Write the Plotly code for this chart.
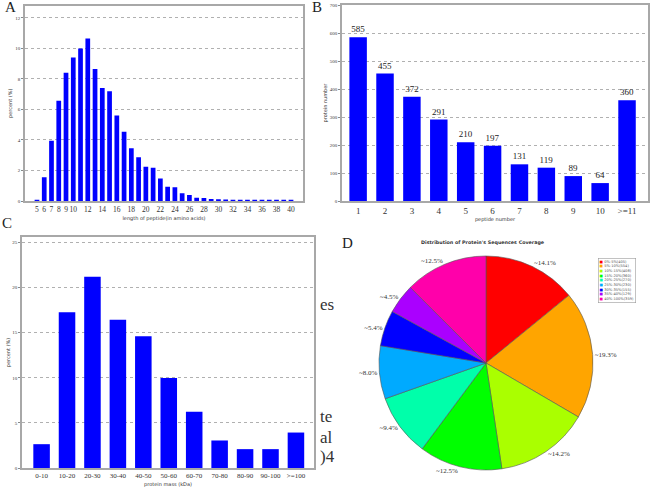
import plotly.graph_objects as go

# ---- panel A: peptide length distribution ----
pep_len = list(range(5, 41))
pep_len_pct = [0.05, 1.55, 3.95, 6.57, 8.4, 9.41, 10.0, 10.65, 8.65, 7.4,
               7.2, 5.6, 4.54, 3.45, 2.86, 2.25, 2.18, 1.48, 0.94, 0.9,
               0.5, 0.4, 0.22, 0.2, 0.13, 0.12, 0.1, 0.07, 0.06, 0.06,
               0.03, 0.02, 0.02, 0.03, 0.07, 0.02]
pep_len_ticks = [5, 6, 7, 8, 9, 10] + list(range(12, 41, 2))

# ---- panel B: peptide number per protein ----
pep_num = ['1', '2', '3', '4', '5', '6', '7', '8', '9', '10', '>=11']
protein_count = [585, 455, 372, 291, 210, 197, 131, 119, 89, 64, 360]

# ---- panel C: protein mass distribution ----
mass_bins = ['0-10', '10-20', '20-30', '30-40', '40-50', '50-60', '60-70',
             '70-80', '80-90', '90-100', '>=100']
mass_pct = [2.64, 17.25, 21.2, 16.44, 14.6, 9.98, 6.24, 3.05, 2.09, 2.09, 3.93]

# ---- panel D: sequence coverage ----
cov_labels = ['0%-5%', '5%-10%', '10%-15%', '15%-20%', '20%-25%',
              '25%-30%', '30%-35%', '35%-40%', '40%-100%']
cov_counts = [405, 554, 408, 360, 270, 230, 155, 129, 359]
cov_colors = ['#FF0000', '#FFA500', '#AAFF00', '#00FF00', '#00FFAA',
              '#00AAFF', '#0000FF', '#AA00FF', '#FF00AA']

BLUE = '#0000FF'
SERIF = 'Liberation Serif'
SANS = 'DejaVu Sans'
W, H = 653, 493


def px(x):
    return x / W


def py(y):
    return 1 - y / H


fig = go.Figure()

fig.add_trace(go.Bar(x=pep_len, y=pep_len_pct, marker=dict(color=BLUE, line=dict(width=0)),
                     xaxis='x', yaxis='y', showlegend=False))
fig.add_trace(go.Bar(x=pep_num, y=protein_count, marker=dict(color=BLUE, line=dict(width=0)),
                     text=protein_count, textposition='outside', cliponaxis=False,
                     textfont=dict(family=SERIF, size=9, color='#222'),
                     xaxis='x2', yaxis='y2', showlegend=False))
fig.add_trace(go.Bar(x=mass_bins, y=mass_pct, marker=dict(color=BLUE, line=dict(width=0)),
                     xaxis='x3', yaxis='y3', showlegend=False))
fig.add_trace(go.Pie(labels=cov_labels, values=cov_counts, sort=False,
                     direction='clockwise', rotation=0,
                     marker=dict(colors=cov_colors, line=dict(color='#555555', width=0.6)),
                     textposition='outside', texttemplate='~%{percent:.1%}',
                     textfont=dict(family=SERIF, size=7, color='#333'),
                     domain=dict(x=[px(377), px(595)], y=[py(470), py(256)]),
                     showlegend=False, hoverinfo='label+value'))

frame = dict(showline=True, mirror=True, linecolor='#a8a8a8', linewidth=1.5, zeroline=False)
ygrid = dict(showgrid=True, gridcolor='#b0b0b0', griddash='dot', gridwidth=1,
             ticks='outside', ticklen=2, tickcolor='#888',
             tickfont=dict(family=SERIF, size=5, color='#333'))
xtitle_font = dict(family=SANS, size=5, color='#333')

fig.update_layout(
    width=W, height=H, margin=dict(l=0, r=0, t=0, b=0, autoexpand=False),
    paper_bgcolor='white', plot_bgcolor='white', bargap=0.35,
    xaxis=dict(domain=[px(25), px(303)], range=[3.35, 41.65], tickvals=pep_len_ticks,
               tickangle=0, showgrid=False, tickfont=dict(family=SERIF, size=7.5, color='#333'),
               title=dict(text='length of peptide(in amino acids)', font=xtitle_font, standoff=4),
               anchor='y', **frame),
    yaxis=dict(domain=[py(201), py(5.7)], range=[0, 12.8], dtick=2,
               title=dict(text='percent (%)', font=xtitle_font, standoff=2),
               anchor='x', **ygrid, **frame),
    xaxis2=dict(domain=[px(342), px(648)], range=[-0.6, 10.78], type='category',
                tickangle=0, showgrid=False, tickfont=dict(family=SERIF, size=9, color='#333'),
                title=dict(text='peptide number', font=xtitle_font, standoff=3),
                anchor='y2', **frame),
    yaxis2=dict(domain=[py(201), py(5)], range=[0, 700], dtick=100,
                title=dict(text='protein number', font=xtitle_font, standoff=2),
                anchor='x2', **ygrid, **frame),
    xaxis3=dict(domain=[px(22), px(314)], range=[-0.77, 10.71], type='category',
                tickangle=0, showgrid=False, tickfont=dict(family=SERIF, size=7, color='#333'),
                title=dict(text='protein mass (kDa)', font=xtitle_font, standoff=3),
                anchor='y3', **frame),
    yaxis3=dict(domain=[py(468), py(237)], range=[0, 25.6], dtick=5,
                title=dict(text='percent (%)', font=xtitle_font, standoff=2),
                anchor='x3', **ygrid, **frame),
)

# panel letters
for letter, lx, ly in [('A', 10, 7), ('B', 317, 7), ('C', 7, 223), ('D', 347, 243)]:
    fig.add_annotation(text=letter, x=px(lx), y=py(ly), xref='paper', yref='paper',
                       xanchor='center', yanchor='middle', showarrow=False,
                       font=dict(family=SERIF, size=15, color='#222'))

# pie title
fig.add_annotation(text="<b>Distribution of Protein's Sequences Coverage</b>",
                   x=px(483), y=py(243), xref='paper', yref='paper', showarrow=False,
                   xanchor='center', yanchor='middle',
                   font=dict(family=SANS, size=4.8, color='#333'))

# pie legend
legend_lines = ["<span style='color:%s'>\u25a0</span> %s(%d)" % (c, l, n)
                for c, l, n in zip(cov_colors, cov_labels, cov_counts)]
fig.add_annotation(text='<br>'.join(legend_lines), x=px(598), y=py(258),
                   xref='paper', yref='paper', xanchor='left', yanchor='top', align='left',
                   showarrow=False, bordercolor='#999', borderwidth=0.6, borderpad=1,
                   font=dict(family=SANS, size=3.6, color='#555'))

# stray page text visible behind the panels
for txt, ty in [('es', 304), ('te', 416), ('al', 437), (')4', 456)]:
    fig.add_annotation(text=txt, x=px(318), y=py(ty), xref='paper', yref='paper',
                       xanchor='left', yanchor='middle', showarrow=False,
                       font=dict(family=SERIF, size=17, color='#333'))

fig.write_html("out.html", config={'displayModeBar': False},
               post_script="document.body.style.margin='0';")
